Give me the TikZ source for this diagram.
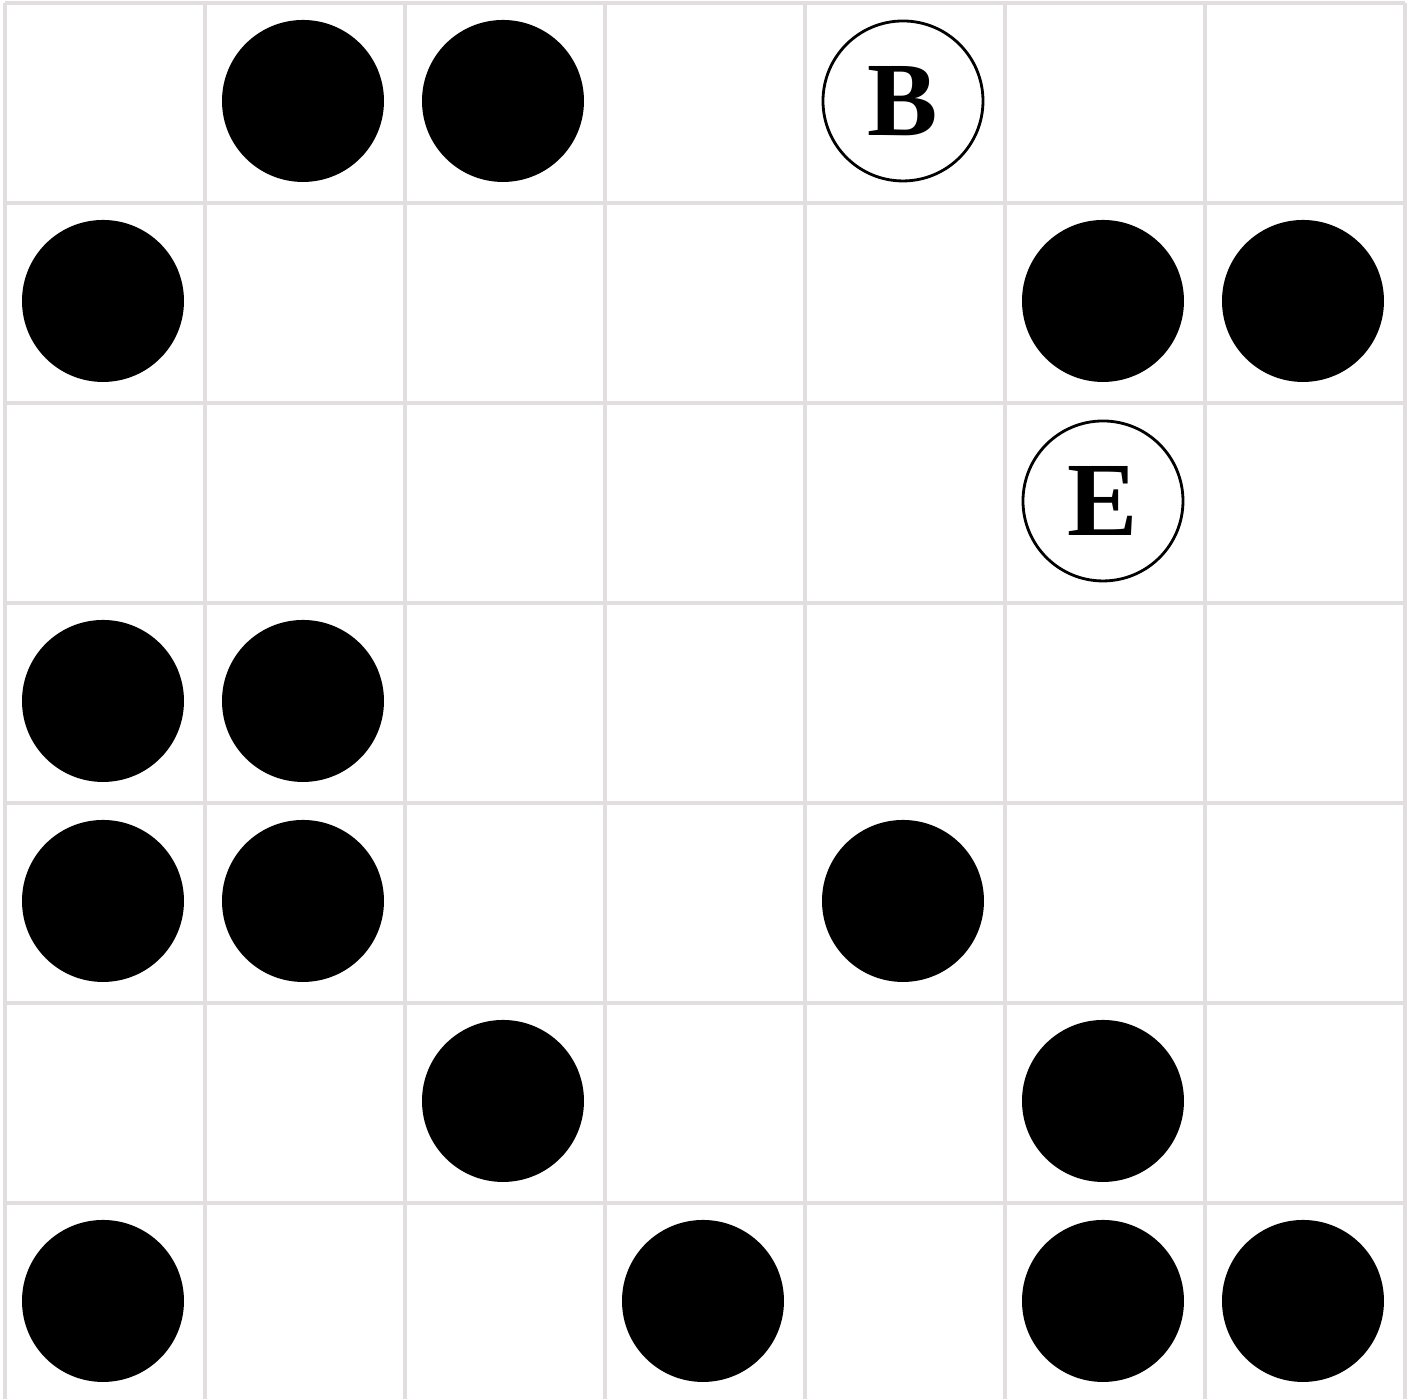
\documentclass[tikz,border=0pt]{standalone}
\usepackage{fontspec}
\newfontfamily\letterfont{Liberation Serif Bold}
\definecolor{gridgray}{RGB}{226,221,223}
\tikzset{
  stone/.style={circle,fill=black,minimum size=0.81cm,inner sep=0pt},
  mark letter/.style={circle,draw=black,line width=0.4pt,fill=white,minimum size=0.80cm,inner sep=0pt,font=\letterfont\fontsize{15}{17}\selectfont},
  gridline/.style={draw=gridgray,line width=0.45pt}
}
\begin{document}
\begin{tikzpicture}
\useasboundingbox (-0.025,0.02) rectangle (7.04,7.015);
\draw[gridline] (0,0) grid (7,7);
% cell (c,r): column c from left, row r from top -> center (c+0.49, 6.51-r)
\foreach \c/\r [count=\i] in {1/0,2/0,0/1,5/1,6/1,0/3,1/3,0/4,1/4,4/4,2/5,5/5,0/6,3/6,5/6,6/6}
  \node[stone] (s\i) at (\c+0.49,6.51-\r) {};
\node[mark letter] (B) at (4.49,6.51) {B};
\node[mark letter] (E) at (5.49,4.51) {E};
\end{tikzpicture}
\end{document}
